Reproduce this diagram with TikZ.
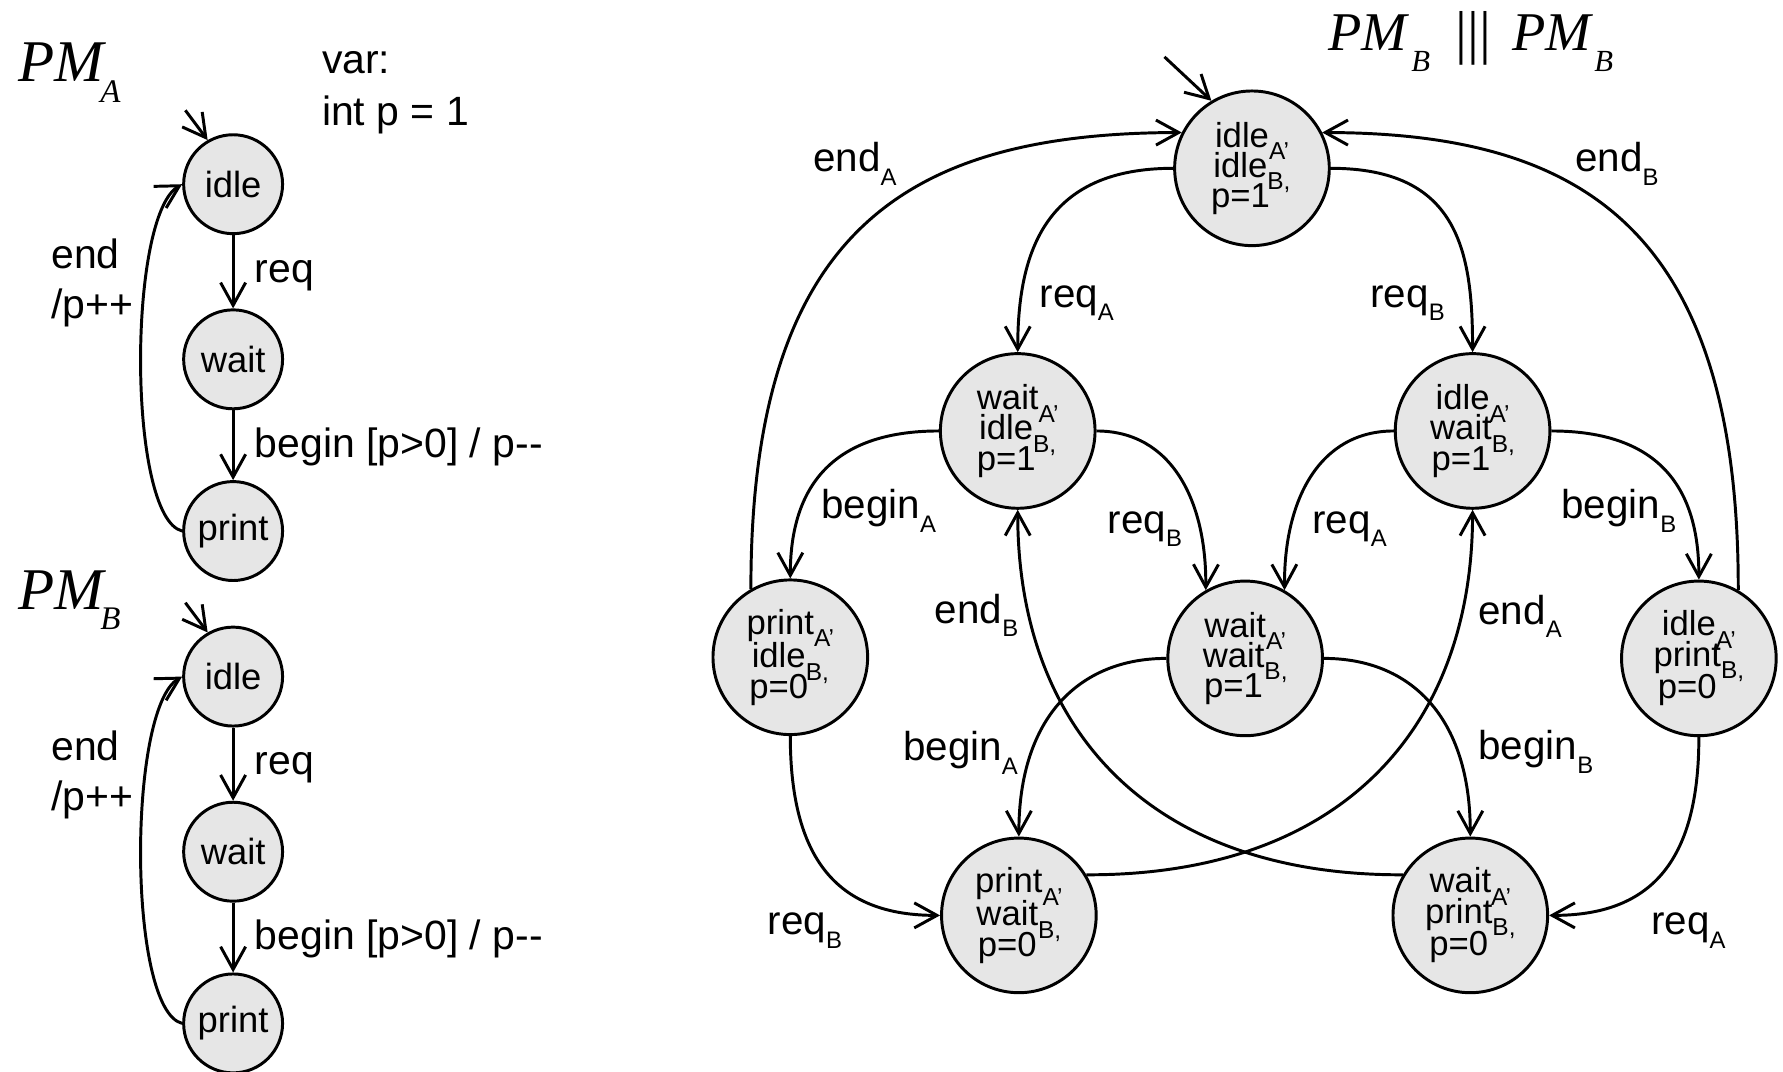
\documentclass[tikz,border=0pt]{standalone}
\usepackage{fontspec}
\setmainfont{Liberation Sans}
\newfontfamily\serifface{Liberation Serif}
\usetikzlibrary{arrows.meta}

% font size helper (units are pt)
\newcommand\fsz[1]{\fontsize{#1}{#1}\selectfont}
% state line: name with a lowered index and punctuation
\newcommand\stl[3]{#1\smash{\raisebox{-11pt}{\fsz{21.5}#2#3}}}
% transition label: name with a lowered index
\newcommand\tl[2]{#1\smash{\raisebox{-12pt}{\fsz{21}#2}}}

\definecolor{statefill}{RGB}{230,230,230}

\tikzset{
  arr/.style={line width=2.6pt,-{Straight Barb[length=20pt,width=22pt]}},
  bigstate/.style={circle,draw,line width=2.6pt,fill=statefill,minimum size=136pt,
    inner sep=0pt,align=center,font=\fontsize{30.5}{26.6}\selectfont},
  smallstate/.style={circle,draw,line width=2.6pt,fill=statefill,minimum size=87pt,
    inner sep=0pt,font=\fsz{32}},
  elabel/.style={anchor=base west,inner sep=0pt,font=\fsz{35.5}},
  llabel/.style={anchor=base west,inner sep=0pt,font=\fsz{36}},
  pmtext/.style={anchor=base west,inner sep=0pt,font=\serifface\itshape\fsz{#1}},
}

\begin{document}
\begin{tikzpicture}[x=1pt,y=-1pt]
\useasboundingbox (0,0) rectangle (1568,942);

% ---------- PM_A ----------
\node[pmtext=52] (pmA) at (16,72) {PM};
\node[pmtext=29] (pmAsub) at (88,90) {A};
\node[llabel] (var1) at (283,65) {var:};
\node[llabel] (var2) at (283,110) {int p = 1};

\node[smallstate] (ia) at (205,162) {idle};
\node[smallstate] (wa) at (205,316) {wait};
\node[smallstate] (pa) at (205,467) {print};
\coordinate (ia0) at (163,97);

\draw[arr] (ia0) -- (ia.120);
\draw[arr] (ia.south) -- (wa.north);
\draw[arr] (wa.south) -- (pa.north);
\draw[arr] (pa.west) .. controls (112,455) and (112,190) .. (ia.west);

\node[llabel] (reqa) at (224,248) {req};
\node[llabel] (bega) at (224,402) {begin [p>0] / p-{}-};
\node[llabel] (enda) at (45,236) {end};
\node[llabel] (inca) at (45,280) {/p++};

% ---------- PM_B ----------
\node[pmtext=52] (pmB) at (16,536) {PM};
\node[pmtext=29] (pmBsub) at (88,554) {B};

\node[smallstate] (ib) at (205,595) {idle};
\node[smallstate] (wb) at (205,749) {wait};
\node[smallstate] (pb) at (205,900) {print};
\coordinate (ib0) at (163,530);

\draw[arr] (ib0) -- (ib.120);
\draw[arr] (ib.south) -- (wb.north);
\draw[arr] (wb.south) -- (pb.north);
\draw[arr] (pb.west) .. controls (112,888) and (112,623) .. (ib.west);

\node[llabel] (reqb) at (224,681) {req};
\node[llabel] (begb) at (224,835) {begin [p>0] / p-{}-};
\node[llabel] (endb) at (45,669) {end};
\node[llabel] (incb) at (45,713) {/p++};

% ---------- PM_B ||| PM_B ----------
\node[pmtext=48] (t1) at (1168,44) {PM};
\node[pmtext=27] (t1s) at (1241,63) {B};
\node[anchor=base west,inner sep=0pt,font=\serifface\fsz{52}] (bars) at (1280,46) {|||};
\node[pmtext=48] (t2) at (1330,44) {PM};
\node[pmtext=27] (t2s) at (1402,63) {B};

\node[bigstate] (T)  at (1101,148) {\stl{idle}{A}{’}\\\stl{idle}{B}{,}\\p=1\hphantom{\fsz{21.5}B,}};
\node[bigstate] (WI) at (895,379)  {\stl{wait}{A}{’}\\\stl{idle}{B}{,}\\p=1\hphantom{\fsz{21.5}B,}};
\node[bigstate] (IW) at (1295,379) {\stl{idle}{A}{’}\\\stl{wait}{B}{,}\\p=1\hphantom{\fsz{21.5}B,}};
\node[bigstate] (PI) at (695,578)  {\stl{print}{A}{’}\\\stl{idle}{B}{,}\\p=0\hphantom{\fsz{21.5}B,}};
\node[bigstate] (WW) at (1095,579) {\stl{wait}{A}{’}\\\stl{wait}{B}{,}\\p=1\hphantom{\fsz{21.5}B,}};
\node[bigstate] (IP) at (1494,579) {\stl{idle}{A}{’}\\\stl{print}{B}{,}\\p=0\hphantom{\fsz{21.5}B,}};
\node[bigstate] (PW) at (896,805)  {\stl{print}{A}{’}\\\stl{wait}{B}{,}\\p=0\hphantom{\fsz{21.5}B,}};
\node[bigstate] (WP) at (1293,805) {\stl{wait}{A}{’}\\\stl{print}{B}{,}\\p=0\hphantom{\fsz{21.5}B,}};
\coordinate (T0) at (1024,50);

% transitions
\draw[arr] (T0) -- (T.121);
\draw[arr] (PI.120) .. controls (660,200) and (800,117) .. (T.153);
\draw[arr] (IP.60) .. controls (1529,200) and (1390,117) .. (T.27);
\draw[arr] (T.west) .. controls (920,148) and (895,220) .. (WI.north);
\draw[arr] (T.east) .. controls (1282,148) and (1295,220) .. (IW.north);
\draw[arr] (WI.west) .. controls (730,379) and (695,430) .. (PI.north);
\draw[arr] (IW.east) .. controls (1460,379) and (1494,430) .. (IP.north);
\draw[arr] (WI.east) .. controls (1030,379) and (1061,440) .. (WW.120);
\draw[arr] (IW.west) .. controls (1160,379) and (1129,440) .. (WW.60);
\draw[arr] (WW.west) .. controls (950,579) and (896,630) .. (PW.north);
\draw[arr] (WW.east) .. controls (1240,579) and (1293,630) .. (WP.north);
\draw[arr] (WP.149) .. controls (1010,770) and (895,640) .. (WI.south);
\draw[arr] (PW.31) .. controls (1180,770) and (1295,640) .. (IW.south);
\draw[arr] (PI.south) .. controls (695,760) and (740,805) .. (PW.west);
\draw[arr] (IP.south) .. controls (1494,760) and (1450,805) .. (WP.east);

% transition labels
\node[elabel] (l1)  at (715,151)  {\tl{end}{A}};
\node[elabel] (l2)  at (1385,151) {\tl{end}{B}};
\node[elabel] (l3)  at (914,270)  {\tl{req}{A}};
\node[elabel] (l4)  at (1205,270) {\tl{req}{B}};
\node[elabel] (l5)  at (722,456)  {\tl{begin}{A}};
\node[elabel] (l6)  at (1373,456) {\tl{begin}{B}};
\node[elabel] (l7)  at (974,469)  {\tl{req}{B}};
\node[elabel] (l8)  at (1154,469) {\tl{req}{A}};
\node[elabel] (l9)  at (822,548)  {\tl{end}{B}};
\node[elabel] (l10) at (1300,549) {\tl{end}{A}};
\node[elabel] (l11) at (794,669)  {\tl{begin}{A}};
\node[elabel] (l12) at (1300,668) {\tl{begin}{B}};
\node[elabel] (l13) at (675,822)  {\tl{req}{B}};
\node[elabel] (l14) at (1452,822) {\tl{req}{A}};
\end{tikzpicture}
\end{document}
